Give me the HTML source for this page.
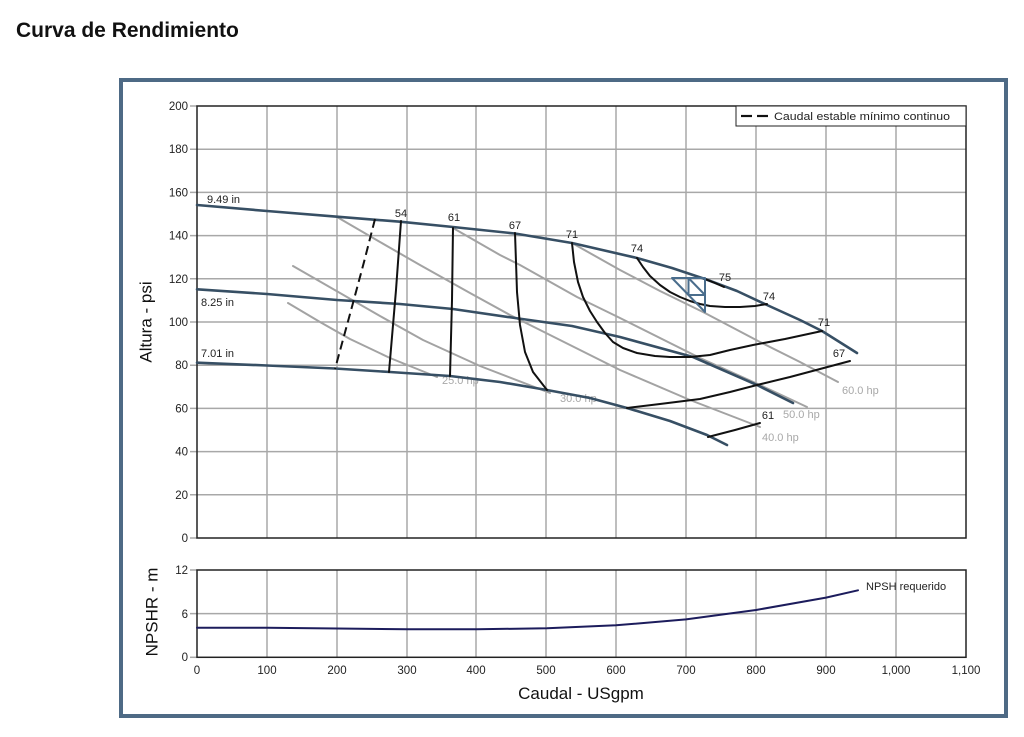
<!DOCTYPE html>
<html>
<head>
<meta charset="utf-8">
<style>
html,body{margin:0;padding:0;background:#fff;}
svg{display:block;}
text{font-family:"Liberation Sans",Arial,sans-serif;}
</style>
</head>
<body>
<svg width="1024" height="737" viewBox="0 0 1024 737" xmlns="http://www.w3.org/2000/svg">
<rect x="0" y="0" width="1024" height="737" fill="#ffffff"/>
<text x="16" y="37" font-size="21" font-weight="bold" fill="#111">Curva de Rendimiento</text>

<!-- frame -->
<rect x="121" y="80" width="885" height="636" fill="none" stroke="#4e6a85" stroke-width="4"/>

<!-- MAIN PLOT GRID -->
<g stroke="#a8a8a8" stroke-width="1.5">
  <line x1="267" y1="106" x2="267" y2="538"/>
  <line x1="337" y1="106" x2="337" y2="538"/>
  <line x1="407" y1="106" x2="407" y2="538"/>
  <line x1="476" y1="106" x2="476" y2="538"/>
  <line x1="546" y1="106" x2="546" y2="538"/>
  <line x1="616" y1="106" x2="616" y2="538"/>
  <line x1="686" y1="106" x2="686" y2="538"/>
  <line x1="756" y1="106" x2="756" y2="538"/>
  <line x1="826" y1="106" x2="826" y2="538"/>
  <line x1="896" y1="106" x2="896" y2="538"/>
  <line x1="190" y1="149.2" x2="966" y2="149.2"/>
  <line x1="190" y1="192.4" x2="966" y2="192.4"/>
  <line x1="190" y1="235.6" x2="966" y2="235.6"/>
  <line x1="190" y1="278.8" x2="966" y2="278.8"/>
  <line x1="190" y1="322" x2="966" y2="322"/>
  <line x1="190" y1="365.2" x2="966" y2="365.2"/>
  <line x1="190" y1="408.4" x2="966" y2="408.4"/>
  <line x1="190" y1="451.6" x2="966" y2="451.6"/>
  <line x1="190" y1="494.8" x2="966" y2="494.8"/>
  <line x1="190" y1="106" x2="197" y2="106"/>
  <line x1="190" y1="538" x2="197" y2="538"/>
</g>
<rect x="197" y="106" width="769" height="432" fill="none" stroke="#222" stroke-width="1.5"/>

<!-- y tick labels -->
<g font-size="11.5" fill="#222" text-anchor="end">
  <text x="188" y="110">200</text>
  <text x="188" y="153.2">180</text>
  <text x="188" y="196.4">160</text>
  <text x="188" y="239.6">140</text>
  <text x="188" y="282.8">120</text>
  <text x="188" y="326">100</text>
  <text x="188" y="369.2">80</text>
  <text x="188" y="412.4">60</text>
  <text x="188" y="455.6">40</text>
  <text x="188" y="498.8">20</text>
  <text x="188" y="542">0</text>
</g>
<text x="0" y="0" font-size="17" fill="#111" text-anchor="middle" dominant-baseline="central" transform="translate(146,322) rotate(-90)">Altura - psi</text>

<!-- power (hp) gray lines -->
<g fill="none" stroke="#a3a3a3" stroke-width="2" stroke-linejoin="round" stroke-linecap="round">
  <polyline points="288,303 320,322 350,339 390,358 437,377"/>
  <polyline points="293,266 340,293 380,316 423,340 480,366 550,393"/>
  <polyline points="337,217 380,242 420,265 470,293 510,315 560,340 620,370 690,400 760,427"/>
  <polyline points="453,228 500,255 520,265 577,297 620,318 700,358 760,385 807,407"/>
  <polyline points="572,243 620,270 660,291 703,312 760,342 800,362 838,382"/>
</g>
<g font-size="11" fill="#a8a8a8">
  <text x="442" y="384">25.0 hp</text>
  <text x="560" y="402">30.0 hp</text>
  <text x="762" y="441">40.0 hp</text>
  <text x="783" y="418">50.0 hp</text>
  <text x="842" y="394">60.0 hp</text>
</g>

<!-- impeller curves -->
<g fill="none" stroke="#374f64" stroke-width="2.6" stroke-linejoin="round" stroke-linecap="round">
  <polyline points="197,205 267,211 337,216.7 400,221.7 453,227 515,233.5 572,243 637,258 672,268 705,279 737,291 767,305 800,320 822,331 857,353"/>
  <polyline points="197,289.3 267,294 337,300 400,304 453,309 515,318 572,326 620,337 693,357 757,385 793,403"/>
  <polyline points="197,362.7 267,365.5 335,368.5 390,372 450,376 500,382 547,390 590,398 627,408 670,421 707,435 727,445"/>
</g>
<g font-size="11" fill="#222">
  <text x="207" y="203">9.49 in</text>
  <text x="201" y="306">8.25 in</text>
  <text x="201" y="357">7.01 in</text>
</g>

<!-- efficiency curves -->
<g fill="none" stroke="#111" stroke-width="2" stroke-linejoin="round" stroke-linecap="round">
  <polyline points="375,219 364,262 353,303 344,336 335,369" stroke-dasharray="9,5" stroke-linecap="butt"/>
  <polyline points="401,221 396,290 389,372"/>
  <polyline points="453,228 452,300 450,376"/>
  <polyline points="515,233 516,262 517,292 520,325 525,352 533,372 547,390"/>
  <polyline points="572,243 574,262 578,282 583,297 590,311 597,322 605,333 613,342 623,348 637,353 655,356 670,357 690,357 710,355 730,350 753,345 785,339 822,331"/>
  <polyline points="637,258 643,267 650,276 660,285 670,292 680,297 690,301 700,304 710,306 725,307 740,307 755,306 767,304"/>
  <polyline points="705,279 715,283 724,287"/>
  <polyline points="627,408 660,404 700,399 730,392 757,385 790,377 820,369 850,361"/>
  <polyline points="708,437 735,430 760,423"/>
</g>
<!-- BEP triangle -->
<g fill="none" stroke="#4a6d8c" stroke-width="2" stroke-linejoin="round">
  <polygon points="672,278 705,278 705,312"/>
  <polygon points="688.5,278 705,295 688.5,295"/>
</g>
<g font-size="11" fill="#222" text-anchor="middle">
  <text x="401" y="217">54</text>
  <text x="454" y="221">61</text>
  <text x="515" y="229">67</text>
  <text x="572" y="238">71</text>
  <text x="637" y="252">74</text>
  <text x="725" y="281">75</text>
  <text x="769" y="300">74</text>
  <text x="824" y="326">71</text>
  <text x="839" y="357">67</text>
  <text x="768" y="419">61</text>
</g>

<!-- legend -->
<rect x="736" y="106" width="230" height="20" fill="#fff" stroke="#222" stroke-width="1"/>
<line x1="741" y1="116" x2="752" y2="116" stroke="#111" stroke-width="2.2"/>
<line x1="757" y1="116" x2="768" y2="116" stroke="#111" stroke-width="2.2"/>
<text x="774" y="120" font-size="11" fill="#222" textLength="176" lengthAdjust="spacingAndGlyphs">Caudal estable mínimo continuo</text>

<!-- NPSH PLOT -->
<g stroke="#a8a8a8" stroke-width="1.5">
  <line x1="267" y1="570" x2="267" y2="657.3"/>
  <line x1="337" y1="570" x2="337" y2="657.3"/>
  <line x1="407" y1="570" x2="407" y2="657.3"/>
  <line x1="476" y1="570" x2="476" y2="657.3"/>
  <line x1="546" y1="570" x2="546" y2="657.3"/>
  <line x1="616" y1="570" x2="616" y2="657.3"/>
  <line x1="686" y1="570" x2="686" y2="657.3"/>
  <line x1="756" y1="570" x2="756" y2="657.3"/>
  <line x1="826" y1="570" x2="826" y2="657.3"/>
  <line x1="896" y1="570" x2="896" y2="657.3"/>
  <line x1="190" y1="613.6" x2="966" y2="613.6"/>
  <line x1="190" y1="570" x2="197" y2="570"/>
  <line x1="190" y1="657.3" x2="197" y2="657.3"/>
</g>
<rect x="197" y="570" width="769" height="87.3" fill="none" stroke="#222" stroke-width="1.5"/>
<polyline fill="none" stroke="#1c1c5c" stroke-width="2" stroke-linejoin="round" stroke-linecap="round"
  points="197,627.7 267,627.8 337,628.5 407,629.3 477,629.3 547,628.2 616,625.3 686,619.4 756,610 826,597.6 858,590.3"/>
<text x="866" y="590" font-size="11" fill="#222">NPSH requerido</text>
<g font-size="11.5" fill="#222" text-anchor="end">
  <text x="188" y="574">12</text>
  <text x="188" y="618">6</text>
  <text x="188" y="661">0</text>
</g>
<g font-size="11.5" fill="#222" text-anchor="middle">
  <text x="197" y="674">0</text>
  <text x="267" y="674">100</text>
  <text x="337" y="674">200</text>
  <text x="407" y="674">300</text>
  <text x="476" y="674">400</text>
  <text x="546" y="674">500</text>
  <text x="616" y="674">600</text>
  <text x="686" y="674">700</text>
  <text x="756" y="674">800</text>
  <text x="826" y="674">900</text>
  <text x="896" y="674">1,000</text>
  <text x="966" y="674">1,100</text>
</g>
<text x="0" y="0" font-size="17" fill="#111" text-anchor="middle" dominant-baseline="central" transform="translate(152,612) rotate(-90)">NPSHR - m</text>
<text x="581" y="699" font-size="17" fill="#111" text-anchor="middle">Caudal - USgpm</text>
</svg>
</body>
</html>
